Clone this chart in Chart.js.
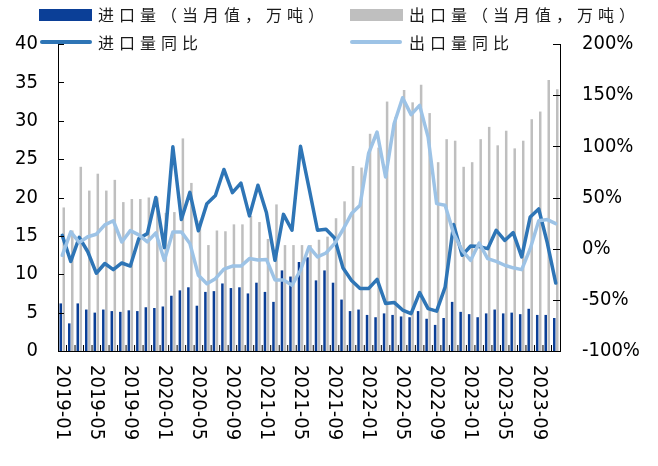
<!DOCTYPE html>
<html>
<head>
<meta charset="utf-8">
<script src="https://cdn.jsdelivr.net/npm/chart.js@4.4.1/dist/chart.umd.min.js"></script>
<style>
  html, body { margin: 0; padding: 0; background: #fff; }
  #wrap { position: relative; width: 658px; height: 466px; }
  canvas { position: absolute; left: 0; top: 0; }
  .lg-text {
    position: absolute; font-family: "Noto Sans CJK SC", sans-serif; font-size: 16px;
    letter-spacing: 5px; color: #1a1a1a; line-height: 20px; white-space: nowrap;
  }
  .lg-box { position: absolute; }
</style>
</head>
<body>
<div id="wrap">
  <canvas id="chart" width="658" height="466"></canvas>
  <div class="lg-box" style="left:39px;top:9px;width:53px;height:12px;background:#0B3F97"></div>
  <div class="lg-text" style="left:98px;top:4px">进口量（当月值，万吨）</div>
  <div class="lg-box" style="left:350px;top:9px;width:53px;height:12px;background:#BFBFBF"></div>
  <div class="lg-text" style="left:409px;top:4px">出口量（当月值，万吨）</div>
  <div class="lg-box" style="left:40px;top:40px;width:52px;height:4px;border-radius:2px;background:#2E75B6"></div>
  <div class="lg-text" style="left:98px;top:32px">进口量同比</div>
  <div class="lg-box" style="left:350px;top:40px;width:52px;height:4px;border-radius:2px;background:#9DC3E6"></div>
  <div class="lg-text" style="left:409px;top:32px">出口量同比</div>
</div>
<script>
// Monthly categories, 2019-01 .. 2023-11
const months = [
  '2019-01','2019-02','2019-03','2019-04','2019-05','2019-06','2019-07','2019-08','2019-09','2019-10','2019-11','2019-12',
  '2020-01','2020-02','2020-03','2020-04','2020-05','2020-06','2020-07','2020-08','2020-09','2020-10','2020-11','2020-12',
  '2021-01','2021-02','2021-03','2021-04','2021-05','2021-06','2021-07','2021-08','2021-09','2021-10','2021-11','2021-12',
  '2022-01','2022-02','2022-03','2022-04','2022-05','2022-06','2022-07','2022-08','2022-09','2022-10','2022-11','2022-12',
  '2023-01','2023-02','2023-03','2023-04','2023-05','2023-06','2023-07','2023-08','2023-09','2023-10','2023-11'
];

// Import volume, monthly (10k tonnes)
const importVolume = [
  6.2, 3.6, 6.2, 5.4, 5.0, 5.4, 5.2, 5.1, 5.3, 5.2,
  5.7, 5.6, 5.8, 7.2, 7.9, 8.3, 5.9, 7.7, 7.8, 8.8,
  8.2, 8.3, 7.5, 8.9, 7.7, 6.4, 10.5, 9.7, 11.6, 12.2,
  9.2, 10.5, 8.9, 6.7, 5.2, 5.4, 4.7, 4.4, 4.9, 4.7,
  4.5, 4.4, 5.2, 4.2, 3.4, 4.3, 6.4, 5.1, 4.8, 4.4,
  4.9, 5.4, 4.9, 5.0, 4.8, 5.5, 4.7, 4.7, 4.3
];

// Export volume, monthly (10k tonnes)
const exportVolume = [
  18.7, 15.7, 24.0, 20.9, 23.1, 20.9, 22.3, 19.4, 19.8, 19.8,
  20.0, 20.0, 18.0, 18.1, 27.7, 21.9, 17.0, 13.8, 15.7, 15.6,
  16.5, 16.5, 17.6, 16.8, 14.6, 19.1, 13.8, 13.8, 13.8, 13.8,
  14.5, 14.9, 17.3, 19.5, 24.1, 23.9, 28.3, 26.5, 32.5, 30.5,
  34.0, 32.4, 34.7, 31.0, 24.6, 27.6, 27.4, 24.0, 24.6, 27.6,
  29.2, 26.8, 28.7, 26.4, 27.4, 30.2, 31.2, 35.3, 34.1
];

// Year-on-year change of imports (%)
const importYoY = [
  13, -12.5, 11, -3, -24, -14.5, -20.5, -14, -17, 10,
  14.7, 50, 1, 99.5, 28.5, 55, 17.5, 44, 52, 77.4,
  54.7, 64, 32, 62, 35, -11.4, 33.5, 18, 100, 59.5,
  18, 19, 10.5, -19, -31, -39, -39, -30, -53.5, -52.5,
  -60, -63.5, -43, -58.6, -61, -37.5, 23.6, -6.5, 2.6, 2,
  0, 18, 8, 15.7, -8, 31, 38.8, 6, -33.6
];

// Year-on-year change of exports (%)
const exportYoY = [
  -6.5, 16.4, 6, 11.7, 14.1, 23.2, 27.3, 6.5, 17.6, 13.5,
  6.6, 15.4, -11.4, 16.4, 16.4, 5, -26, -34.2, -29.3, -20,
  -17, -17, -9.7, -11, -10.5, -30.5, -30.5, -35.8, -21.1, 1.7,
  -8.1, -4.2, 5, 18.7, 34.3, 42.5, 93, 114, 70, 122,
  147.5, 131, 140, 109, 44, 42.5, 14.7, -1.6, -11.4, 5.5,
  -9.7, -12.5, -16.2, -18.7, -20.5, 0, 27.3, 28.4, 24.5
];

const tickFont = { family: '"DejaVu Sans Condensed", "Liberation Sans", sans-serif', size: 20 };
const labelEvery = 4;

// Inward tick marks on all three axes plus vertical month labels
const axisDecor = {
  id: 'axisDecor',
  afterDraw(chart) {
    const { ctx, chartArea: a, scales } = chart;
    const xs = scales.x, ys = scales.y, yr = scales.y1;
    ctx.save();
    ctx.strokeStyle = '#000';
    ctx.lineWidth = 1;
    ctx.beginPath();
    for (let v = 0; v <= 40; v += 5) {
      const y = Math.round(ys.getPixelForValue(v)) + 0.5;
      ctx.moveTo(a.left, y); ctx.lineTo(a.left + 6, y);
    }
    for (let p = -100; p <= 200; p += 50) {
      const y = Math.round(yr.getPixelForValue(p)) + 0.5;
      ctx.moveTo(a.right - 7, y); ctx.lineTo(a.right, y);
    }
    const w = (a.right - a.left) / months.length;
    for (let k = 1; k < months.length; k++) {
      const x = a.left + k * w;
      ctx.moveTo(x, a.bottom); ctx.lineTo(x, a.bottom - 6);
    }
    ctx.stroke();

    ctx.fillStyle = '#000';
    ctx.font = tickFont.size + 'px ' + tickFont.family;
    ctx.textAlign = 'left';
    ctx.textBaseline = 'middle';
    months.forEach((m, i) => {
      if (i % labelEvery !== 0) return;
      const x = xs.getPixelForValue(i);
      ctx.save();
      ctx.translate(x, a.bottom + 14);
      ctx.rotate(Math.PI / 2);
      ctx.fillText(m, 0, 0);
      ctx.restore();
    });
    ctx.restore();
  }
};

const whiteBg = {
  id: 'whiteBg',
  beforeDraw(chart) {
    const { ctx, width, height } = chart;
    ctx.save();
    ctx.fillStyle = '#fff';
    ctx.fillRect(0, 0, width, height);
    ctx.restore();
  }
};

new Chart(document.getElementById('chart'), {
  data: {
    labels: months,
    datasets: [
      {
        type: 'line', label: '出口量同比', data: exportYoY, yAxisID: 'y1', order: 0,
        borderColor: '#9DC3E6', borderWidth: 3.5, pointRadius: 0, tension: 0,
        borderJoinStyle: 'round', borderCapStyle: 'round'
      },
      {
        type: 'line', label: '进口量同比', data: importYoY, yAxisID: 'y1', order: 1,
        borderColor: '#2E75B6', borderWidth: 3.5, pointRadius: 0, tension: 0,
        borderJoinStyle: 'round', borderCapStyle: 'round'
      },
      {
        type: 'bar', label: '进口量（当月值，万吨）', data: importVolume, yAxisID: 'y', order: 2,
        backgroundColor: '#0B3F97', categoryPercentage: 0.71, barPercentage: 0.83
      },
      {
        type: 'bar', label: '出口量（当月值，万吨）', data: exportVolume, yAxisID: 'y', order: 3,
        backgroundColor: '#BFBFBF', categoryPercentage: 0.71, barPercentage: 0.83
      }
    ]
  },
  options: {
    responsive: false,
    animation: false,
    devicePixelRatio: 1,
    layout: { padding: { top: 44, left: 0, right: 0, bottom: 0 } },
    plugins: { legend: { display: false }, tooltip: { enabled: false } },
    scales: {
      x: {
        type: 'category', offset: true,
        grid: { display: false, drawTicks: false },
        border: { display: true, color: '#000', width: 1 },
        ticks: { display: false },
        afterFit(s) { s.height = 115; }
      },
      y: {
        position: 'left', min: 0, max: 40,
        grid: { display: false, drawTicks: false },
        border: { display: true, color: '#000', width: 1 },
        ticks: { stepSize: 5, color: '#000', font: tickFont, padding: 20 },
        afterFit(s) { s.width = 58; }
      },
      y1: {
        position: 'right', min: -100, max: 200,
        grid: { display: false, drawTicks: false },
        border: { display: true, color: '#000', width: 1 },
        ticks: { stepSize: 50, color: '#000', font: tickFont, padding: 22, callback: v => v + '%' },
        afterFit(s) { s.width = 98; }
      }
    }
  },
  plugins: [whiteBg, axisDecor]
});
</script>
</body>
</html>
